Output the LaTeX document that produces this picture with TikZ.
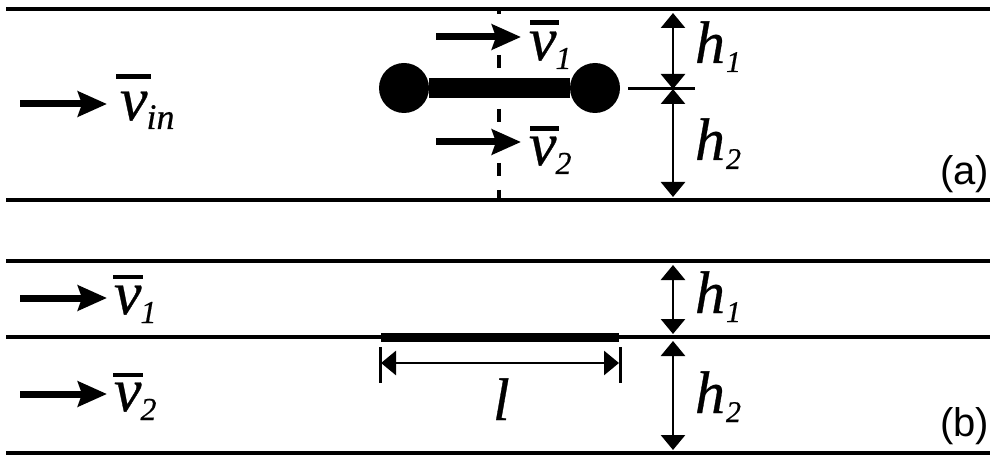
\documentclass[tikz,border=0pt]{standalone}
\usepackage{fontspec}
\setmainfont{Liberation Serif}[ItalicFeatures={FakeBold=0.5}]
\newfontfamily\labelsans{Liberation Sans}
\usetikzlibrary{arrows.meta}
% #1 bar raise, #2 bar left kern, #3 bar width, #4 subscript, #5 subscript size
\newcommand{\velsym}[5]{\fontsize{62}{62}\selectfont\itshape\rlap{\kern#2pt\raisebox{#1pt}{\rule{#3pt}{4.5pt}}}v\kern-1pt\raisebox{-9pt}{\fontsize{#5}{#5}\selectfont #4}}
\newcommand{\heightsym}[1]{\fontsize{60}{60}\selectfont\itshape h\kern1pt\raisebox{-9pt}{\fontsize{30}{30}\selectfont #1}}
\tikzset{
  wall/.style={line width=3.6pt,black},
  flow/.style={line width=7pt,-{Stealth[length=29pt,width=25pt,inset=4pt]}},
  dim/.style={line width=2.8pt,{Triangle[length=15pt,width=24pt]}-{Triangle[length=15pt,width=24pt]}},
  tick/.style={line width=3pt},
  ball/.style={circle,fill=black,minimum size=50pt,inner sep=0pt},
  txt/.style={anchor=base west,inner sep=0pt,outer sep=0pt},
}
\begin{document}
\begin{tikzpicture}[x=1pt,y=-1pt]
\useasboundingbox (0,0) rectangle (1000,462);
% walls
\foreach \n/\yy in {t/9,m/200,u/261,c/337,b/453}{
  \coordinate (\n L) at (6,\yy);
  \coordinate (\n R) at (990,\yy);
  \draw[wall] (\n L) -- (\n R);
}
% dashed axis
\coordinate (axT) at (499,10);
\coordinate (axB) at (499,198);
\draw[line width=3.5pt,dash pattern=on 13pt off 14pt,dash phase=9pt] (axT) -- (axB);
% dumbbell
\node[ball] (ballL) at (404,88) {};
\node[ball] (ballR) at (595,88) {};
\draw[line width=20pt] (ballL) -- (ballR);
% plate
\coordinate (plL) at (381,337);
\coordinate (plR) at (619,337);
\draw[line width=9pt] (plL) -- (plR);
% flow arrows
\foreach \n/\xa/\xb/\yy in {fa/20/107/104,fb/436/521/37,fc/436/521/142,fd/20/107/298,fe/20/107/394}{
  \coordinate (\n S) at (\xa,\yy);
  \coordinate (\n E) at (\xb,\yy);
  \draw[flow] (\n S) -- (\n E);
}
% dimension arrows
\coordinate (h1aT) at (673,13);
\coordinate (hMid) at (673,89);
\coordinate (h2aB) at (673,197);
\coordinate (h1bT) at (673,265);
\coordinate (h1bB) at (673,334);
\coordinate (h2bT) at (673,341);
\coordinate (h2bB) at (673,450);
\draw[dim] (h1aT) -- (hMid);
\draw[dim] (hMid) -- (h2aB);
\draw[dim] (h1bT) -- (h1bB);
\draw[dim] (h2bT) -- (h2bB);
\coordinate (crossL) at (628,89);
\coordinate (crossR) at (695,89);
\draw[tick] (crossL) -- (crossR);
% length
\coordinate (tlT) at (380,347);
\coordinate (tlB) at (380,383);
\coordinate (trT) at (620,347);
\coordinate (trB) at (620,383);
\draw[tick] (tlT) -- (tlB);
\draw[tick] (trT) -- (trB);
\coordinate (lL) at (381,363);
\coordinate (lR) at (619,363);
\draw[dim] (lL) -- (lR);
% labels
\node[txt] (vin) at (120,120) {\velsym{41}{-4}{35}{in}{36}};
\node[txt] (vA1) at (529,60) {\velsym{35}{1}{29}{1}{32}};
\node[txt] (vA2) at (529,165) {\velsym{34}{1}{29}{2}{32}};
\node[txt] (vB1) at (114,314) {\velsym{35}{-1}{30}{1}{32}};
\node[txt] (vB2) at (114,411) {\velsym{34}{-1}{30}{2}{32}};
\node[txt] (hA1) at (695,63) {\heightsym{1}};
\node[txt] (hA2) at (695,160) {\heightsym{2}};
\node[txt] (hB1) at (695,313) {\heightsym{1}};
\node[txt] (hB2) at (695,413) {\heightsym{2}};
\node[txt] (lenl) at (493,420) {\fontsize{60}{60}\selectfont\itshape l};
\node[txt] (capa) at (940,185) {\fontsize{40}{40}\selectfont\labelsans (a)};
\node[txt] (capb) at (940,436) {\fontsize{40}{40}\selectfont\labelsans (b)};
\end{tikzpicture}
\end{document}
